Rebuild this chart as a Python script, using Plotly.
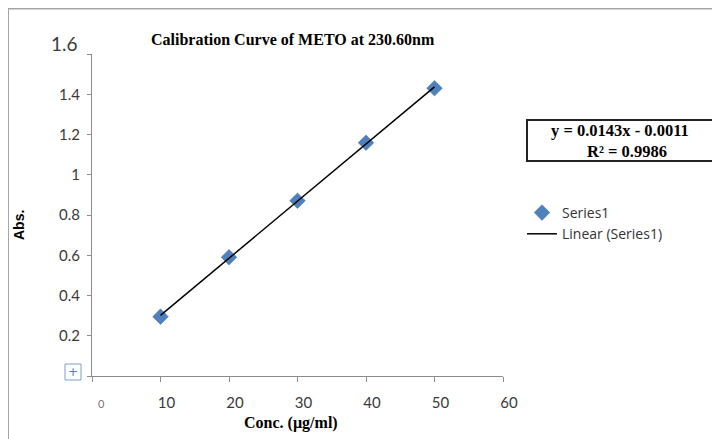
import numpy as np
import plotly.graph_objects as go

# ---- data ----
conc = [10, 20, 30, 40, 50]
absorbance = [0.295, 0.59, 0.871, 1.159, 1.43]
x_ticks = [0, 10, 20, 30, 40, 50, 60]
x_ticktext = ["", "10", "20", "30", "40", "50", "60"]
y_ticks = [0, 0.2, 0.4, 0.6, 0.8, 1.0, 1.2, 1.4, 1.6]
y_ticktext = ["", "0.2", "0.4", "0.6", "0.8", "1", "1.2", "1.4", ""]
title_text = "Calibration Curve of METO at 230.60nm"
x_title = "Conc. (µg/ml)"
y_title = "Abs."
equation_line1 = "y = 0.0143x - 0.0011"
equation_line2 = "R² = 0.9986"
series_name = "Series1"
trend_name = "Linear (Series1)"

# trendline from least squares fit of the data
slope, intercept = np.polyfit(conc, absorbance, 1)
trend_x = [conc[0], conc[-1]]
trend_y = [slope * v + intercept for v in trend_x]

# page has an 8px body margin; figure is offset by it
OFF = 8
W, H = 712, 431
L, R, T, B = 84, 217, 46, 63
PW, PH = W - L - R, H - T - B

def px(sx):
    return (sx - OFF - L) / PW

def py(sy):
    return (H - B - (sy - OFF)) / PH

fig = go.Figure()
fig.add_trace(go.Scatter(
    x=conc, y=absorbance, mode="markers", name=series_name,
    marker=dict(symbol="diamond", size=12, color="#4F81BD",
                line=dict(width=0.5, color="#3A6EA5")),
))
fig.add_trace(go.Scatter(
    x=trend_x, y=trend_y, mode="lines", name=trend_name,
    line=dict(color="black", width=1.5),
))

tick_font = dict(family="Lato, Open Sans, sans-serif", size=15, color="#3a3a3a")

fig.update_layout(
    width=W, height=H,
    margin=dict(l=L, r=R, t=T, b=B, pad=0, autoexpand=False),
    paper_bgcolor="white", plot_bgcolor="white",
    showlegend=True,
    legend=dict(x=px(522), y=py(197), xanchor="left", yanchor="top",
                font=dict(family="Open Sans, sans-serif", size=14, color="#333333"),
                bgcolor="rgba(0,0,0,0)", tracegroupgap=2, itemwidth=30),
    xaxis=dict(range=[0, 60], tickvals=x_ticks, ticktext=x_ticktext,
               automargin=False,
               showgrid=False, zeroline=False, showline=True,
               linecolor="#8c8c8c", linewidth=1,
               ticks="outside", ticklen=5, tickcolor="#8c8c8c",
               tickfont=tick_font, ticklabelshift=6, ticklabelstandoff=8),
    yaxis=dict(range=[0, 1.6], tickvals=y_ticks, ticktext=y_ticktext,
               automargin=False,
               showgrid=False, zeroline=False, showline=True,
               linecolor="#8c8c8c", linewidth=1,
               ticks="outside", ticklen=4, tickcolor="#8c8c8c",
               tickfont=tick_font, ticklabelstandoff=4),
)

eq_font = dict(family="Liberation Serif, serif", size=16.5, color="black")
annotations = [
    dict(text="<b>" + title_text + "</b>", xref="paper", yref="paper",
         x=px(293), y=py(39), xanchor="center", yanchor="middle", showarrow=False,
         font=dict(family="Liberation Serif, serif", size=16, color="black")),
    dict(text="1.6", xref="paper", yref="paper", x=px(80), y=py(43),
         xanchor="right", yanchor="middle", showarrow=False,
         font=dict(family="Lato, Open Sans, sans-serif", size=19, color="#3a3a3a")),
    dict(text="0", xref="paper", yref="paper", x=px(101), y=py(403),
         xanchor="center", yanchor="middle", showarrow=False,
         font=dict(family="Lato, Open Sans, sans-serif", size=11, color="#777777")),
    dict(text="<b>" + x_title + "</b>", xref="paper", yref="paper",
         x=px(291), y=py(423), xanchor="center", yanchor="middle", showarrow=False,
         font=dict(family="Liberation Serif, serif", size=16, color="black")),
    dict(text="<b>" + y_title + "</b>", xref="paper", yref="paper",
         x=px(19), y=py(225), xanchor="center", yanchor="middle", showarrow=False,
         textangle=-90,
         font=dict(family="Liberation Sans Narrow, Liberation Sans, sans-serif", size=14, color="black")),
    dict(text="<b>" + equation_line1 + "</b>", xref="paper", yref="paper",
         x=px(620), y=py(131), xanchor="center", yanchor="middle", showarrow=False,
         font=eq_font),
    dict(text="<b>" + equation_line2 + "</b>", xref="paper", yref="paper",
         x=px(627), y=py(151), xanchor="center", yanchor="middle", showarrow=False,
         font=eq_font),
    dict(text="+", xref="paper", yref="paper", x=px(73), y=py(372),
         xanchor="center", yanchor="middle", showarrow=False,
         font=dict(family="DejaVu Sans", size=12, color="#4F81BD")),
]
fig.update_layout(annotations=annotations)

shapes = [
    # outer chart frame (left and top edges)
    dict(type="line", xref="paper", yref="paper", x0=px(8), x1=px(8), y0=py(8), y1=py(439),
         line=dict(color="#a6a6a6", width=2)),
    dict(type="line", xref="paper", yref="paper", x0=px(8), x1=px(720), y0=py(8.5), y1=py(8.5),
         line=dict(color="#a6a6a6", width=2)),
    # equation box
    dict(type="rect", xref="paper", yref="paper", x0=px(527), x1=px(716), y0=py(120), y1=py(161),
         line=dict(color="#222222", width=2), fillcolor="rgba(0,0,0,0)"),
    # small selection handle icon
    dict(type="rect", xref="paper", yref="paper", x0=px(65), x1=px(81), y0=py(364), y1=py(380),
         line=dict(color="#7f9fc8", width=1), fillcolor="white", layer="below"),
]
fig.update_layout(shapes=shapes)

fig.write_html("out.html")
